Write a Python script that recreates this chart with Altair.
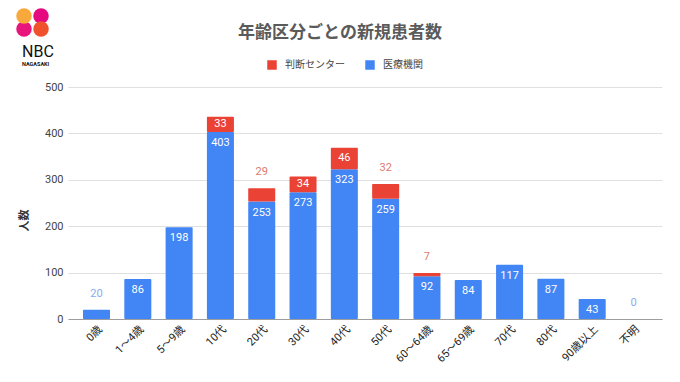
import altair as alt
import pandas as pd

categories = ["0歳", "1〜4歳", "5〜9歳", "10代", "20代", "30代", "40代", "50代",
              "60〜64歳", "65〜69歳", "70代", "80代", "90歳以上", "不明"]
medical = [20, 86, 198, 403, 253, 273, 323, 259, 92, 84, 117, 87, 43, 0]
center = [0, 0, 0, 33, 29, 34, 46, 32, 7, 0, 0, 0, 0, 0]
series_names = ["判断センター", "医療機関"]
y_ticks = [0, 100, 200, 300, 400, 500]

FONT = "Roboto, 'Noto Sans CJK JP', sans-serif"
BLUE = "#4285F4"
RED = "#EA4335"

rows = []
for c, m, r in zip(categories, medical, center):
    rows.append({"cat": c, "series": "医療機関", "value": m, "y0": 0, "y1": m,
                 "mid": m / 2, "total": m + r,
                 "kind": "in" if m >= 40 else ("out" if r == 0 else "none")})
    rows.append({"cat": c, "series": "判断センター", "value": r, "y0": m, "y1": m + r,
                 "mid": m + r / 2, "total": m + r,
                 "kind": "none" if r == 0 else ("in" if r >= 33 else "out")})
df = pd.DataFrame(rows)

xenc = alt.X("cat:N", sort=categories, title=None,
             scale=alt.Scale(paddingInner=0.346, paddingOuter=0.363),
             axis=alt.Axis(labelAngle=-45, labelFontSize=11, labelColor="#222",
                           labelFont=FONT, ticks=False, domainColor="#9e9e9e",
                           labelPadding=4))

base = alt.Chart(df)

bars = base.mark_bar(cornerRadius=1).encode(
    x=xenc,
    y=alt.Y("y0:Q", title="人数", scale=alt.Scale(domain=[0, 500]),
            axis=alt.Axis(values=y_ticks, grid=True, gridColor="#e0e0e0", domain=False,
                          ticks=False, labelFontSize=11, labelColor="#444",
                          labelFont=FONT, labelPadding=5, titleFont=FONT,
                          titleFontSize=11, titleFontWeight="bold", titleColor="#333",
                          titleX=-39, titleY=133)),
    y2="y1:Q",
    color=alt.Color("series:N",
                    scale=alt.Scale(domain=series_names, range=[RED, BLUE]),
                    legend=alt.Legend(title=None, orient="none", legendX=199, legendY=-27,
                                      direction="horizontal", symbolType="square",
                                      symbolSize=90, symbolStrokeWidth=0,
                                      labelFontSize=10, labelFont=FONT, labelColor="#444",
                                      columnPadding=20, labelOffset=8)),
)

blue_in = base.transform_filter(
    (alt.datum.kind == "in") & (alt.datum.series == "医療機関")
).mark_text(dy=11, fontSize=11, color="white", font=FONT).encode(
    x=alt.X("cat:N", sort=categories), y="y1:Q", text="value:Q")

red_in = base.transform_filter(
    (alt.datum.kind == "in") & (alt.datum.series == "判断センター")
).mark_text(dy=0, fontSize=11, color="white", font=FONT).encode(
    x=alt.X("cat:N", sort=categories), y="mid:Q", text="value:Q")

out_lbl = base.transform_filter(alt.datum.kind == "out").mark_text(
    dy=-16, fontSize=11, font=FONT).encode(
    x=alt.X("cat:N", sort=categories), y="total:Q", text="value:Q",
    color=alt.Color("series:N", scale=alt.Scale(domain=series_names,
                                               range=["#dc7a6e", "#86aef0"]),
                    legend=None))

one = alt.Data(values=[{"a": 1}])
logo = [
    alt.Chart(one).mark_circle(size=240, color="#e4097f", opacity=1).encode(
        x=alt.value(-27), y=alt.value(-71)),
    alt.Chart(one).mark_circle(size=240, color="#f0522d", opacity=1).encode(
        x=alt.value(-27), y=alt.value(-58)),
    alt.Chart(one).mark_circle(size=240, color="#e8157c", opacity=1).encode(
        x=alt.value(-44), y=alt.value(-58)),
    alt.Chart(one).mark_circle(size=240, color="#f9a93c", opacity=1).encode(
        x=alt.value(-44), y=alt.value(-71)),
    alt.Chart(one).mark_text(text="NBC", fontSize=16, font="Roboto", color="#111",
                             align="left", baseline="alphabetic").encode(
        x=alt.value(-46), y=alt.value(-30)),
    alt.Chart(one).mark_text(text="NAGASAKI", fontSize=5.5, font="Roboto", color="#111",
                             align="left", fontWeight="bold").encode(
        x=alt.value(-46), y=alt.value(-23)),
]

chart = alt.layer(*logo, bars, blue_in, red_in, out_lbl).resolve_scale(
    color="independent"
).properties(
    width=594, height=232,
    autosize=alt.AutoSizeParams(type="none"),
    padding={"left": 60, "top": 79, "right": 10, "bottom": 55},
    title=alt.TitleParams("年齢区分ごとの新規患者数", anchor="middle", dx=-25, dy=34,
                          fontSize=17, fontWeight="bold", color="#5a5a5a",
                          font="'Noto Sans CJK JP', sans-serif", offset=0),
).configure_view(stroke=None)

chart.save("out.html", embed_options={"renderer": "svg", "actions": False})
